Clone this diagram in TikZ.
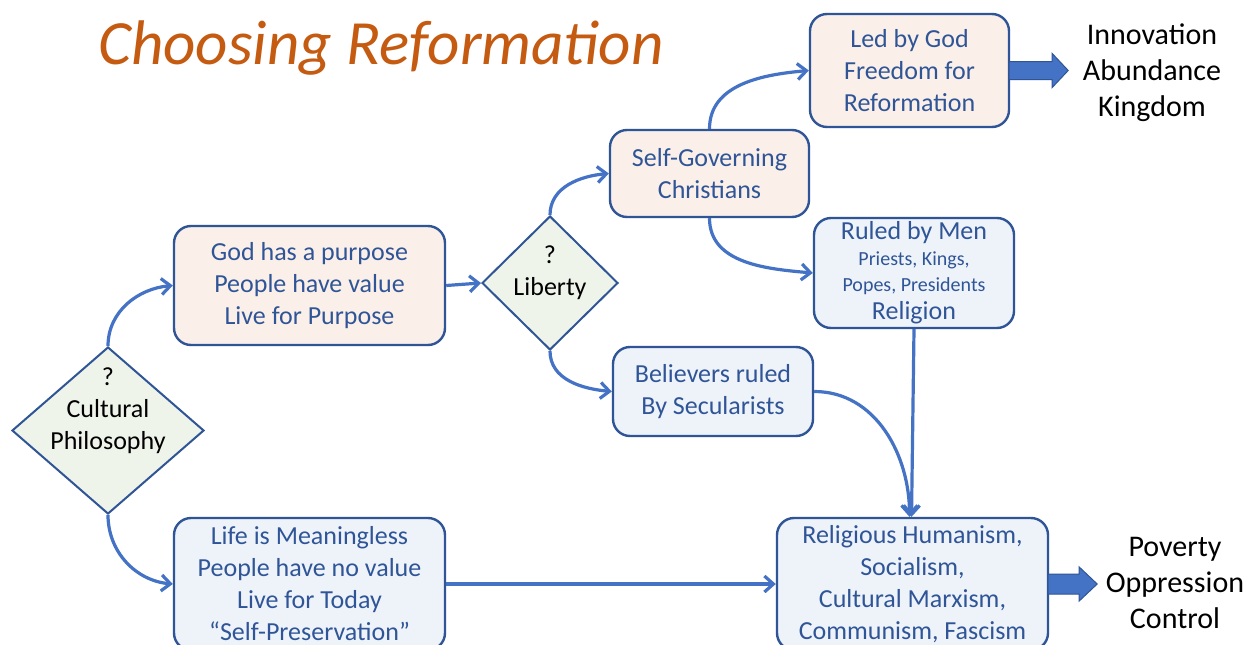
\documentclass[tikz,border=0pt]{standalone}
\usepackage{fontspec}
\setmainfont{Carlito}
\usetikzlibrary{shapes.geometric,arrows.meta,calc}
\definecolor{boxline}{HTML}{2F5597}
\definecolor{conn}{HTML}{4472C4}
\definecolor{peach}{HTML}{FBF0E9}
\definecolor{paleblue}{HTML}{EEF3FA}
\definecolor{palegreen}{HTML}{EFF4EA}
\definecolor{titleor}{HTML}{C55A11}
\tikzset{
  box/.style={draw=boxline, line width=2.4pt, rounded corners=17pt, align=center,
    text=boxline, font=\fontsize{26}{32}\selectfont, inner sep=0pt},
  pbox/.style={box, fill=peach},
  bbox/.style={box, fill=paleblue},
  dia/.style={diamond, draw=boxline, line width=2pt, fill=palegreen, inner sep=0pt},
  diatext/.style={align=center, font=\fontsize{26}{32}\selectfont, text=black},
  outtext/.style={align=center, font=\fontsize{30}{36}\selectfont, text=black},
  conn/.style={draw=conn, line width=3.2pt, -{Straight Barb[length=9pt,width=16pt,line width=3.2pt]}},
  blockarrow/.style={fill=conn, draw=boxline, line width=1pt}
}
\begin{document}
\begin{tikzpicture}[x=1pt,y=-1pt]
\useasboundingbox (0,0) rectangle (1253,645);
\fill[white] (0,0) rectangle (1253,645);

\node[text=titleor, font=\fontsize{63}{70}\selectfont\itshape, anchor=center] (title) at (381,48) {Choosing Reformation};

\node[pbox, minimum width=271pt, minimum height=119pt] (A) at (309.5,285.5) {God has a purpose\\People have value\\Live for Purpose};
\node[bbox, minimum width=271pt, minimum height=132pt] (B) at (309.5,584) {Life is Meaningless\\People have no value\\Live for Today\\“Self-Preservation”};
\node[dia, minimum width=192pt, minimum height=167pt] (d1) at (108,430.5) {};
\node[diatext] at ($(d1.center)+(0,-20)$) {?\\Cultural\\Philosophy};
\node[dia, minimum width=136pt, minimum height=134pt] (d2) at (550,283) {};
\node[diatext] at ($(d2.center)+(0,-10)$) {?\\Liberty};
\node[pbox, minimum width=199pt, minimum height=87pt] (C) at (709.5,173.5) {Self-Governing\\Christians};
\node[pbox, minimum width=199pt, minimum height=113pt] (D) at (909.5,70.5) {Led by God\\Freedom for\\Reformation};
\node[bbox, minimum width=200pt, minimum height=110pt] (E) at (914,273) {Ruled by Men\\[-6pt]{\fontsize{20}{23}\selectfont Priests, Kings,}\\[-6pt]{\fontsize{20}{23}\selectfont Popes, Presidents}\\[-4pt]Religion};
\node[bbox, minimum width=200pt, minimum height=89pt] (F) at (713,391.5) {Believers ruled\\By Secularists};
\node[bbox, minimum width=271pt, minimum height=132pt] (G) at (912.5,584) {Religious Humanism,\\Socialism,\\Cultural Marxism,\\Communism, Fascism};

\node[outtext] (T1) at (1152,73) {Innovation\\Abundance\\Kingdom};
\node[outtext] (T2) at (1175,583) {Poverty\\Oppression\\Control};

% connectors
\draw[conn] (d1.north) to[out=90,in=185] (A.west);
\draw[conn] (d1.south) to[out=-90,in=175] (B.west);
\draw[conn] (A.east) -- (d2.west);
\draw[conn] (d2.north) to[out=90,in=185] (C.west);
\draw[conn] (d2.south) to[out=-90,in=175] (F.west);
\draw[conn] (C.north) to[out=90,in=185] (D.west);
\draw[conn] (C.south) to[out=-90,in=175] (E.west);
\draw[conn] (E.south) -- ($(G.north)+(-1,0)$);
\draw[conn] (F.east) to[out=0,in=90] ($(G.north)+(-3,0)$);
\draw[conn] (B.east) -- (G.west);

% block arrows
\draw[blockarrow] ($(D.east)+(-1,-9)$) -- ++(43,0) -- ++(0,-8) -- ++(16,17) -- ++(-16,17) -- ++(0,-8) -- ++(-43,0) -- cycle;
\draw[blockarrow] ($(G.east)+(-1,-10)$) -- ++(31,0) -- ++(0,-7) -- ++(18,17) -- ++(-18,17) -- ++(0,-7) -- ++(-31,0) -- cycle;
\end{tikzpicture}
\end{document}
